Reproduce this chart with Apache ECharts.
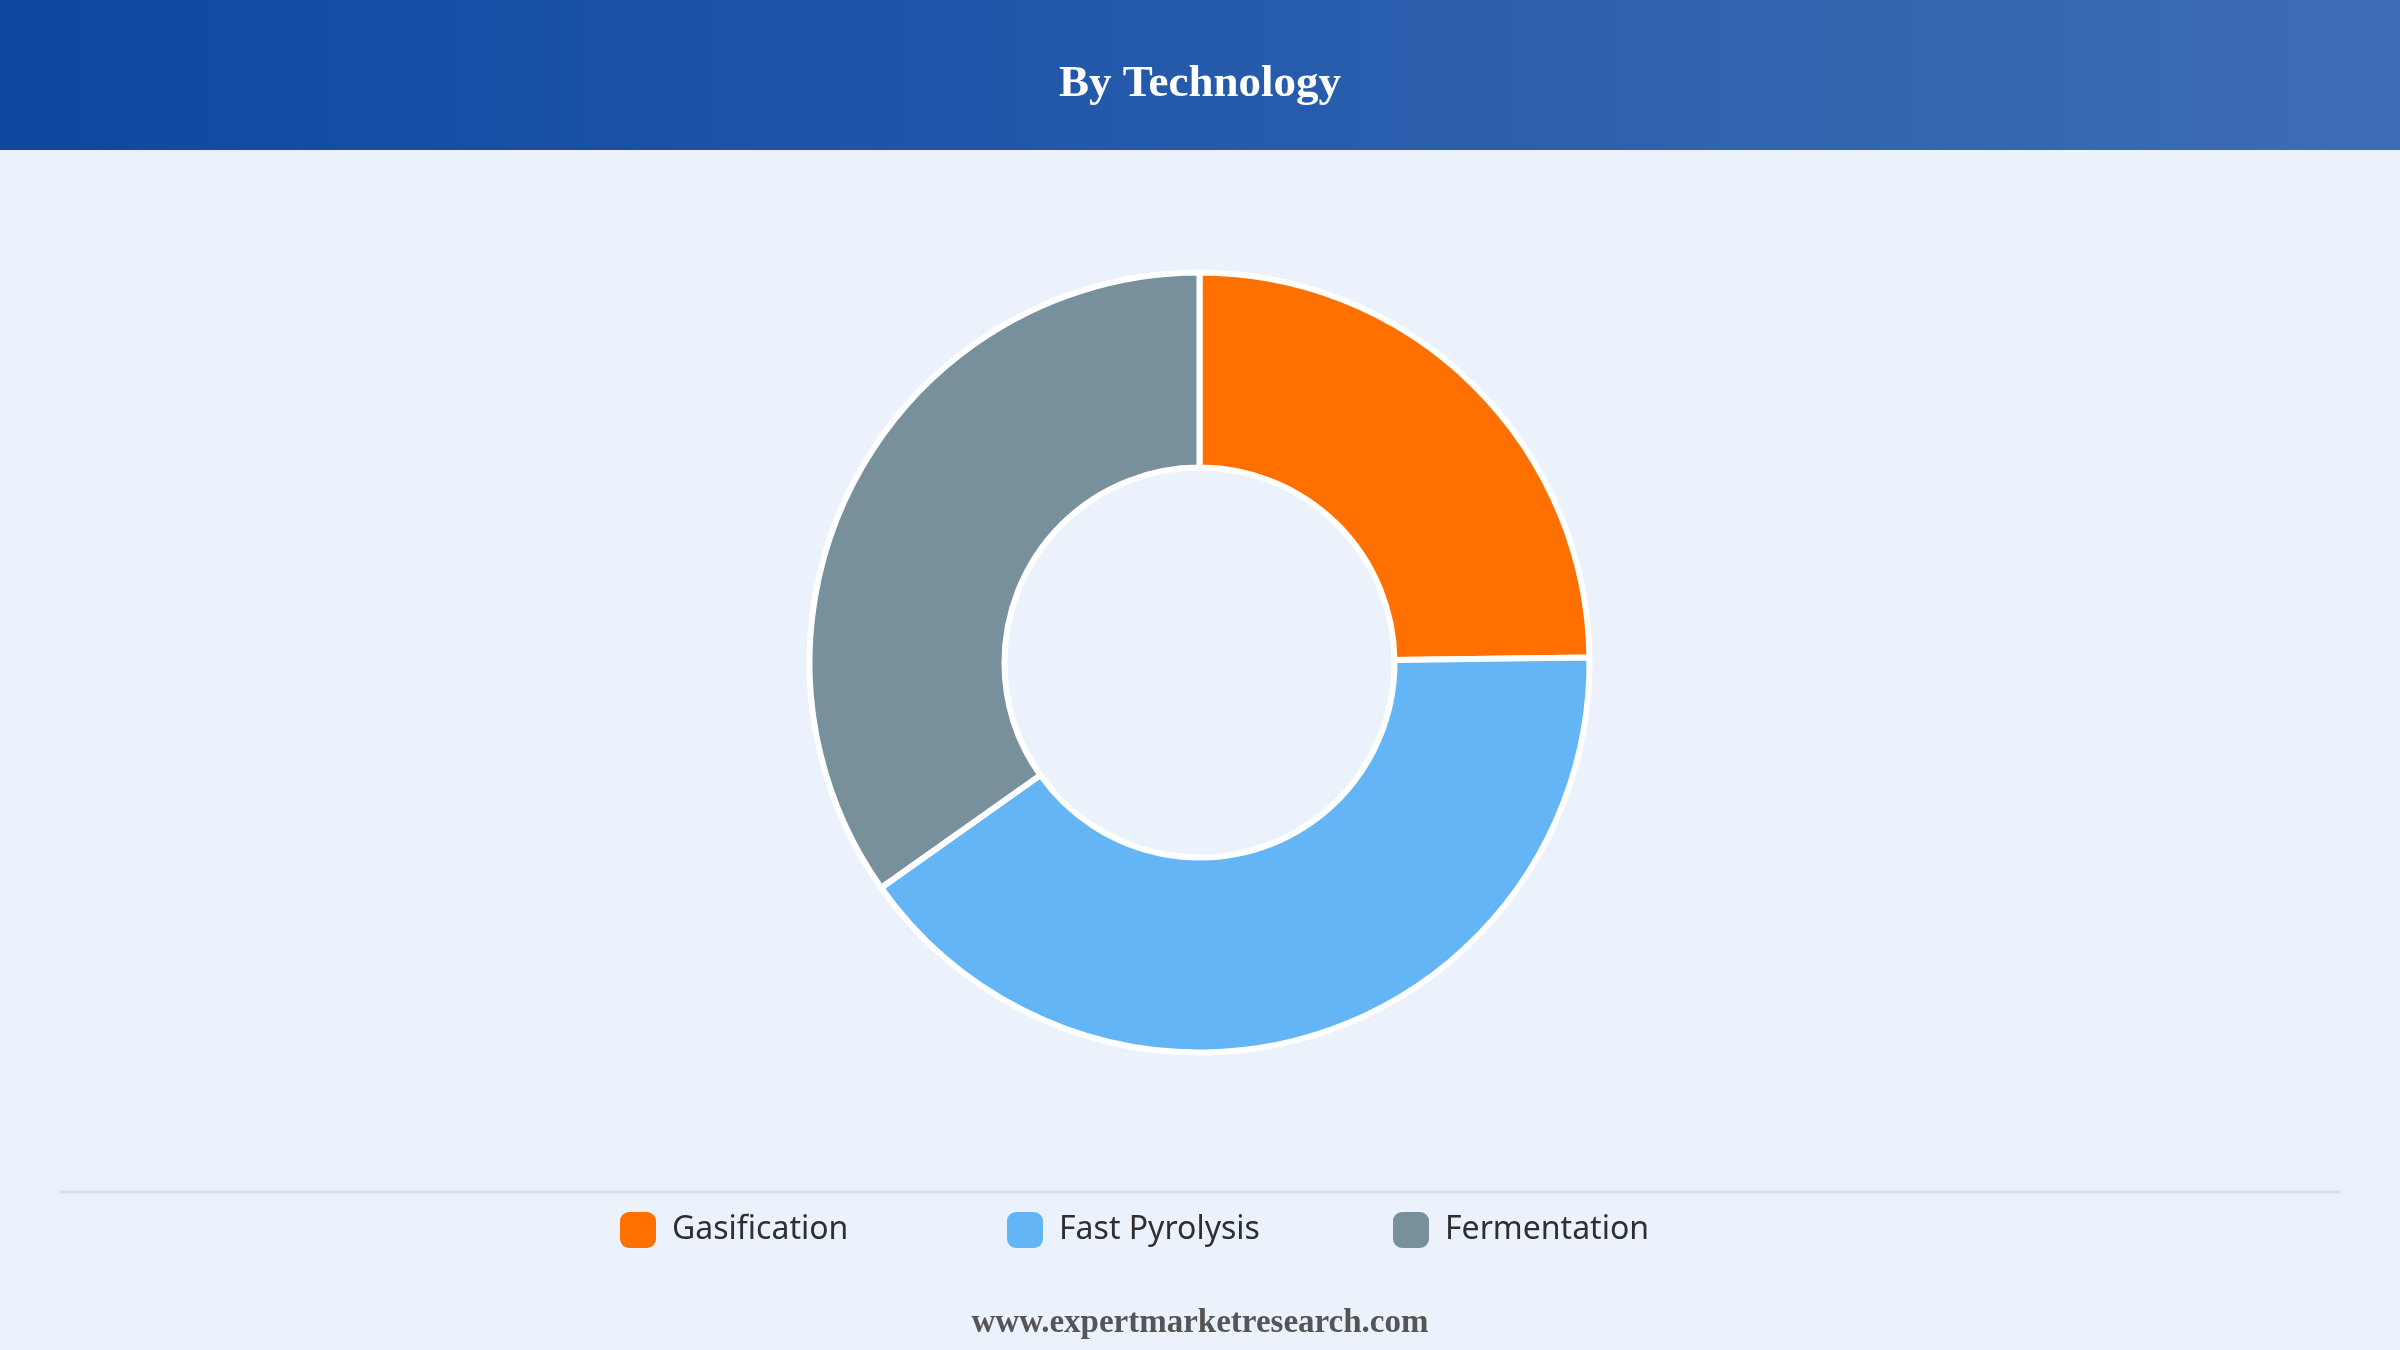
<!DOCTYPE html>
<html>
<head>
<meta charset="utf-8">
<title>By Technology</title>
<script src="https://cdn.jsdelivr.net/npm/echarts@6/dist/echarts.min.js"></script>
<style>
  html, body { margin: 0; padding: 0; background: #ebf2fb; }
  #chart { width: 2400px; height: 1350px; }
</style>
</head>
<body>
<div id="chart"></div>
<script>
// share by technology (%)
const categories = ['Gasification', 'Fast Pyrolysis', 'Fermentation']
const shares = [24.8, 40.4, 34.8]
const colors = ['#ff7000', '#64b5f6', '#78909c']
// legend items sit on a fixed step, not packed by text width
const legendLeft = [620, 1007, 1393]

const chart = echarts.init(document.getElementById('chart'))

chart.setOption({
  backgroundColor: '#ebf2fb',
  animation: false,
  graphic: [
    {
      type: 'rect', z: 0,
      shape: { x: 0, y: 0, width: 2400, height: 150 },
      style: {
        fill: new echarts.graphic.LinearGradient(0, 0, 1, 0, [
          { offset: 0, color: '#0d47a1' },
          { offset: 1, color: '#3d6db5' }
        ])
      }
    },
    {
      type: 'text', z: 2,
      style: {
        text: 'By Technology', x: 1200, y: 84,
        align: 'center', verticalAlign: 'middle',
        fill: '#ffffff', font: 'bold 45px "Liberation Serif", "DejaVu Serif", serif'
      }
    },
    {
      type: 'line', z: 1,
      shape: { x1: 60, y1: 1192, x2: 2340, y2: 1192 },
      style: { stroke: '#d9dde3', lineWidth: 3 }
    },
    {
      type: 'text', z: 2,
      style: {
        text: 'www.expertmarketresearch.com', x: 1200, y: 1323,
        align: 'center', verticalAlign: 'middle',
        fill: '#555555', font: 'bold 33px "Liberation Serif", "DejaVu Serif", serif'
      }
    }
  ],
  legend: categories.map((name, i) => ({
    left: legendLeft[i], top: 1212, padding: 0,
    itemWidth: 36, itemHeight: 36,
    icon: 'roundRect',
    selectedMode: false,
    itemStyle: { borderWidth: 0 },
    data: [name],
    textStyle: {
      color: '#2f2f2f', fontSize: 32, fontFamily: '"Noto Sans", sans-serif',
      padding: [5, 0, 0, 11]
    }
  })),
  series: [
    {
      type: 'pie',
      center: [1199.5, 662.5],
      radius: [195, 390],
      startAngle: 90,
      clockwise: true,
      silent: true,
      label: { show: false },
      labelLine: { show: false },
      itemStyle: { borderColor: '#ffffff', borderWidth: 6 },
      data: categories.map((name, i) => ({
        name, value: shares[i], itemStyle: { color: colors[i] }
      }))
    }
  ]
})
</script>
</body>
</html>
